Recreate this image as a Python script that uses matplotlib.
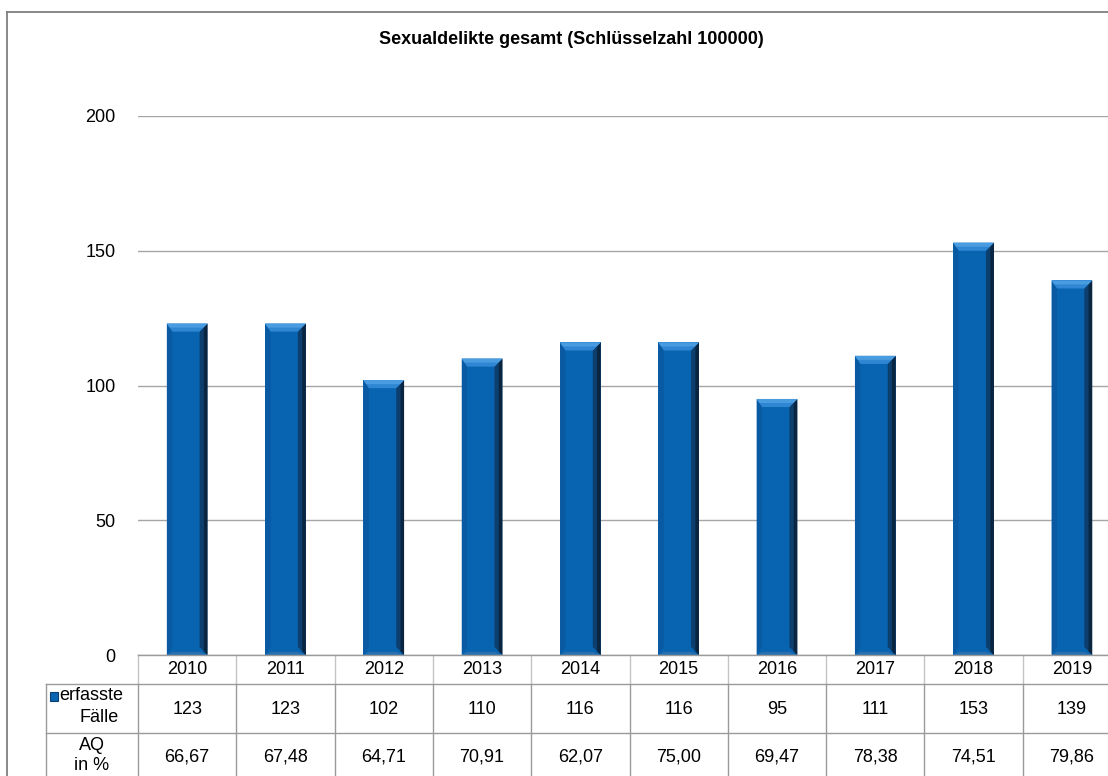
import matplotlib
matplotlib.use("Agg")
import matplotlib.pyplot as plt
from matplotlib.patches import Polygon, Rectangle
from matplotlib.lines import Line2D

plt.rcParams['font.family'] = ['Liberation Sans', 'DejaVu Sans']

years = ['2010', '2011', '2012', '2013', '2014', '2015', '2016', '2017', '2018', '2019']
faelle = [123, 123, 102, 110, 116, 116, 95, 111, 153, 139]
aq = ['66,67', '67,48', '64,71', '70,91', '62,07', '75,00', '69,47', '78,38', '74,51', '79,86']
title = 'Sexualdelikte gesamt (Schlüsselzahl 100000)'

W, H = 1108, 776
fig = plt.figure(figsize=(W / 100, H / 100), dpi=100)

def fx(px):
    return px / W

def fy(py):
    return 1 - py / H

FS = 13
ax_left, ax_right, ax_top, ax_bot = 138, 1121, 116, 655
ax = fig.add_axes([fx(ax_left), fy(ax_bot), fx(ax_right - ax_left), (ax_bot - ax_top) / H])
ax.set_xlim(-0.5, len(years) - 0.5)
ax.set_ylim(0, 200)
ax.set_yticks([0, 50, 100, 150, 200])
ax.set_xticks([])
ax.tick_params(axis='y', length=0, pad=16, labelsize=FS)
for s in ax.spines.values():
    s.set_visible(False)
ax.grid(axis='y', color='#a6a6a6', linewidth=1)
ax.set_axisbelow(True)

xs = list(range(len(years)))
bw = 0.413
ax.bar(xs, faelle, width=bw, color='#0864b0', edgecolor='none', zorder=3)

# bevel effects drawn from bar data
bx = 0.08   # bevel width in category units
by = 3.0    # bevel height in data units
for x, v in zip(xs, faelle):
    l, r = x - bw / 2, x + bw / 2
    ax.add_patch(Polygon([(r - bx, by), (r, 0), (r, v), (r - bx, v - by)],
                         closed=True, facecolor='#0d3f6e', edgecolor='none', zorder=4))
    ax.add_patch(Polygon([(r - bx * 0.45, by * 0.45), (r, 0), (r, v), (r - bx * 0.45, v - by * 0.45)],
                         closed=True, facecolor='#0a2540', edgecolor='none', zorder=4))
    ax.add_patch(Polygon([(l, 0), (l + bx * 0.7, by), (l + bx * 0.7, v - by), (l, v)],
                         closed=True, facecolor='#0a5aa3', edgecolor='none', zorder=4))
    ax.add_patch(Polygon([(l, v), (r, v), (r - bx, v - by), (l + bx * 0.7, v - by)],
                         closed=True, facecolor='#2f86d2', edgecolor='none', zorder=4))
    ax.add_patch(Polygon([(l, v), (r, v), (r - bx * 0.5, v - by * 0.5), (l + bx * 0.35, v - by * 0.5)],
                         closed=True, facecolor='#4a9ce0', edgecolor='none', zorder=4))
    ax.add_patch(Polygon([(l, 0), (r, 0), (r - bx, by * 0.4), (l + bx * 0.7, by * 0.4)],
                         closed=True, facecolor='#2a70b0', edgecolor='none', zorder=4))

# title
fig.text(fx(571), fy(40), title, ha='center', va='center', fontsize=13, fontweight='bold')

# outer frame (left and top)
fig.add_artist(Line2D([fx(7), fx(7)], [fy(12), fy(776)], color='#7f7f7f', linewidth=1.3))
fig.add_artist(Line2D([fx(7), fx(1108)], [fy(12), fy(12)], color='#7f7f7f', linewidth=1.3))

# data table
col_w = (ax_right - ax_left) / len(years)
row_y = [655, 684, 733, 790]
grid_c = '#9a9a9a'
for i in range(len(years) + 1):
    x = ax_left + i * col_w
    fig.add_artist(Line2D([fx(x), fx(x)], [fy(row_y[0]), fy(row_y[1])], color='#c4c4c4', linewidth=1))
    fig.add_artist(Line2D([fx(x), fx(x)], [fy(row_y[1]), fy(row_y[3])], color=grid_c, linewidth=1))
fig.add_artist(Line2D([fx(46), fx(46)], [fy(row_y[1]), fy(row_y[3])], color=grid_c, linewidth=1))
fig.add_artist(Line2D([fx(ax_left), fx(ax_right)], [fy(row_y[0]), fy(row_y[0])], color=grid_c, linewidth=1))
for ry in row_y[1:3]:
    fig.add_artist(Line2D([fx(46), fx(ax_right)], [fy(ry), fy(ry)], color=grid_c, linewidth=1))

for i, (yr, f, a) in enumerate(zip(years, faelle, aq)):
    cx = ax_left + (i + 0.5) * col_w
    fig.text(fx(cx), fy(670), yr, ha='center', va='center', fontsize=FS)
    fig.text(fx(cx), fy(709), str(f), ha='center', va='center', fontsize=FS)
    fig.text(fx(cx), fy(757), a, ha='center', va='center', fontsize=FS)

# row headers
fig.add_artist(Rectangle((fx(50), fy(701)), fx(8), 9 / H, facecolor='#0864b0',
                         edgecolor='#0d3f6e', linewidth=0.8))
fig.text(fx(59), fy(696), 'erfasste', ha='left', va='center', fontsize=FS)
fig.text(fx(99), fy(718), 'Fälle', ha='center', va='center', fontsize=FS)
fig.text(fx(92), fy(746), 'AQ', ha='center', va='center', fontsize=FS)
fig.text(fx(92), fy(766), 'in %', ha='center', va='center', fontsize=FS)

fig.savefig('out.png', dpi=100)
